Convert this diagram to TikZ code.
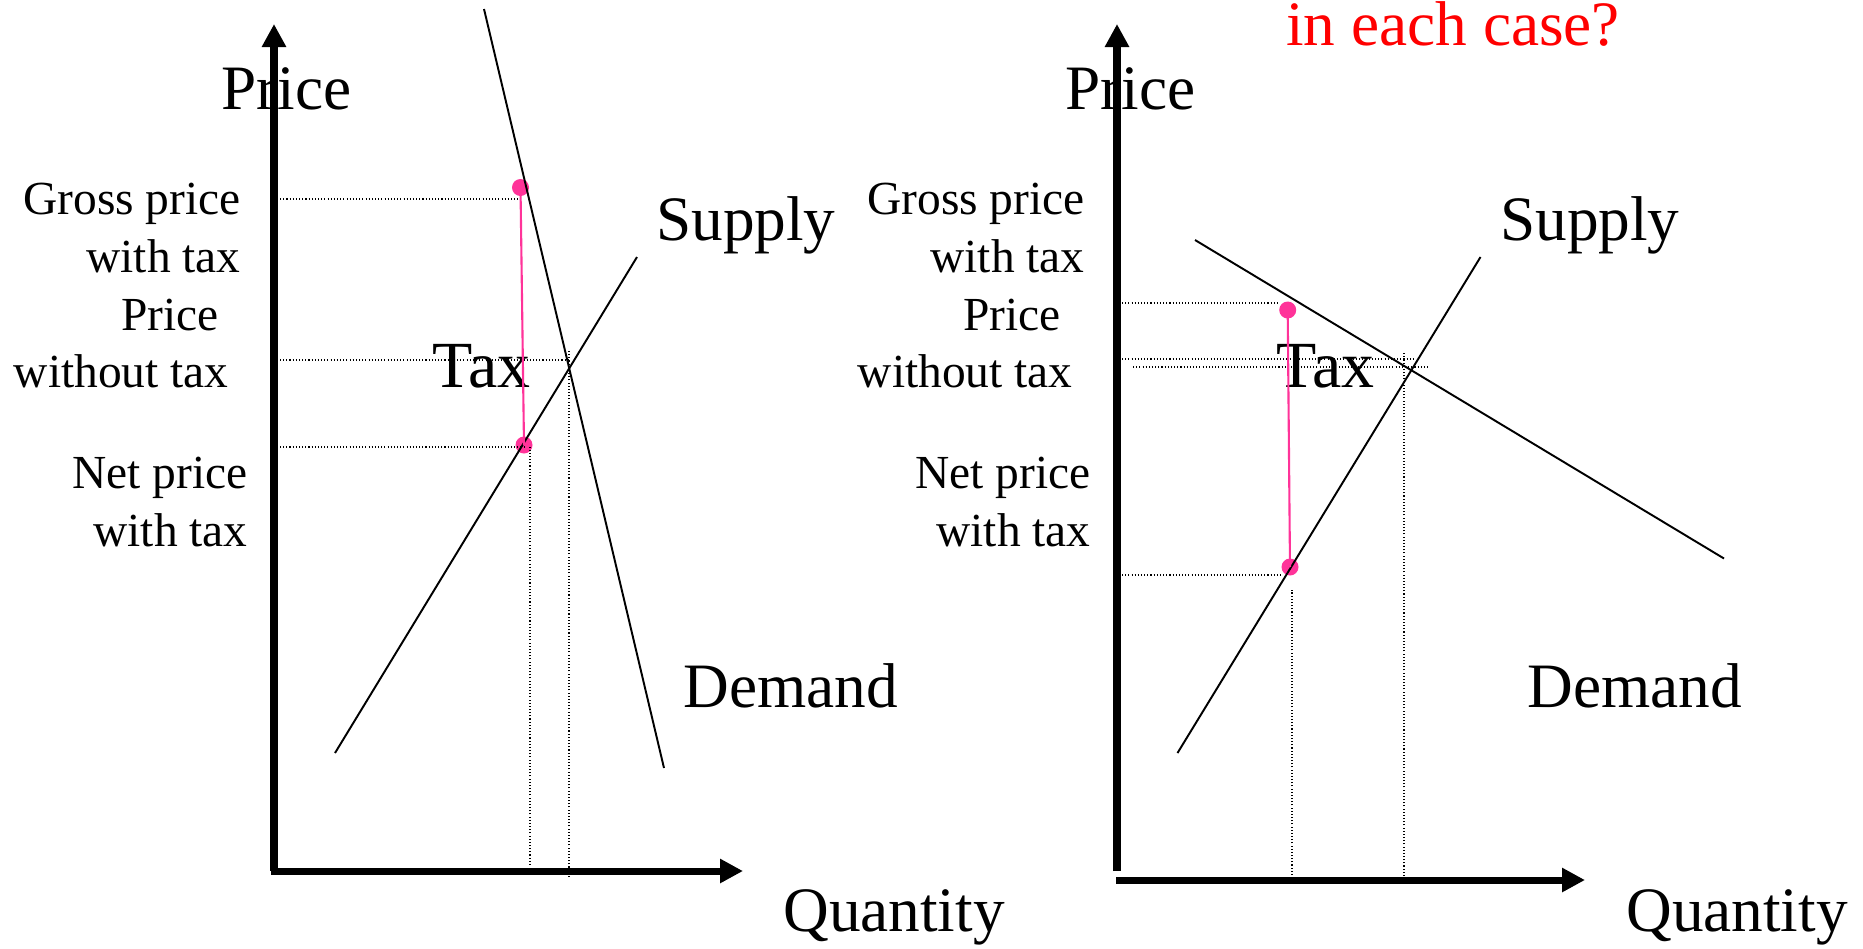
\documentclass[tikz,border=0pt]{standalone}
\usepackage{fontspec}
\setmainfont{Liberation Serif}
\usetikzlibrary{arrows.meta}
\definecolor{taxpink}{RGB}{255,51,153}

\begin{document}
\begin{tikzpicture}[x=0.02cm, y=-0.02cm,
  >={Triangle[length=0.46cm, width=0.46cm]},
  axis/.style={line width=4pt, ->},
  curve/.style={line width=1.1pt},
  guide/.style={line width=0.6pt, dash pattern=on 0.6pt off 1.2pt},
  taxline/.style={draw=taxpink, line width=1.2pt},
  dot/.style={circle, fill=taxpink, inner sep=0pt, minimum size=0.34cm},
  big/.style={font=\fontsize{36}{43}\selectfont, inner sep=0pt, anchor=base west},
  lab/.style={font=\fontsize{27}{32}\selectfont, inner sep=0pt, anchor=base east}]
  \useasboundingbox (0,0) rectangle (1863,948);

  % left market: steep demand
  \node[big] (p1) at (221,109) {Price};
  \node[lab] (g1a) at (241,214) {Gross price};
  \node[lab] (g1b) at (241,272) {with tax};
  \node[lab] (w1a) at (219,330) {Price};
  \node[lab] (w1b) at (229,387) {without tax};
  \node[lab] (n1a) at (248,488) {Net price};
  \node[lab] (n1b) at (248,546) {with tax};
  \node[big, font=\fontsize{37.5}{45}\selectfont] (t1) at (432,387) {Tax};
  \node[big] (s1) at (656,240) {Supply};
  \node[big] (d1) at (683,707) {Demand};
  \node[big] (q1) at (783,931) {Quantity};

  \coordinate (o1) at (274,871);
  \coordinate (ox1) at (270.5,871);
  \coordinate (y1) at (274,24);
  \coordinate (x1) at (743,871);
  \coordinate (da1) at (484,9);
  \coordinate (db1) at (664,768);
  \coordinate (sa1) at (335,753);
  \coordinate (sb1) at (637,257);
  \coordinate (e1) at (intersection of da1--db1 and sa1--sb1);
  \coordinate (hg1) at (277,199);
  \coordinate (he1) at (280,360);
  \coordinate (hn1) at (280,447);
  \coordinate (vn1) at (530,865);
  \coordinate (ve1) at (569,877);
  \coordinate (ve1t) at (569,351);

  \node[dot] (gd1) at (520.5,187.5) {};
  \node[dot] (nd1) at (524,445) {};

  \draw[guide] (hg1) -- (hg1 -| gd1);
  \draw[guide] (he1) -- (he1 -| e1);
  \draw[guide] (hn1) -- (hn1 -| nd1);
  \draw[guide] (vn1) -- (vn1 |- hn1);
  \draw[guide] (ve1) -- (ve1t);
  \draw[curve] (da1) -- (db1);
  \draw[curve] (sa1) -- (sb1);
  \draw[taxline] (gd1.center) -- (nd1.center);
  \draw[axis] (o1) -- (y1);
  \draw[axis] (ox1) -- (x1);

  % right market: flat demand
  \node[big, text=red] (c) at (1286,45) {in each case?};
  \node[big] (p2) at (1065,109) {Price};
  \node[lab] (g2a) at (1085,214) {Gross price};
  \node[lab] (g2b) at (1085,272) {with tax};
  \node[lab] (w2a) at (1061,330) {Price};
  \node[lab] (w2b) at (1073,387) {without tax};
  \node[lab] (n2a) at (1091,488) {Net price};
  \node[lab] (n2b) at (1091,546) {with tax};
  \node[big, font=\fontsize{37.5}{45}\selectfont] (t2) at (1276,387) {Tax};
  \node[big] (s2) at (1500,240) {Supply};
  \node[big] (d2) at (1527,707) {Demand};
  \node[big] (q2) at (1626,931) {Quantity};

  \coordinate (o2) at (1117,871);
  \coordinate (ox2) at (1116,880);
  \coordinate (y2) at (1117,24);
  \coordinate (x2) at (1585,880);
  \coordinate (da2) at (1195,240);
  \coordinate (db2) at (1724,558.5);
  \coordinate (sa2) at (1177.5,753);
  \coordinate (sb2) at (1480.5,257);
  \coordinate (hg2) at (1122,303);
  \coordinate (he2) at (1122,359);
  \coordinate (he2e) at (1415,359);
  \coordinate (hf2) at (1133,367);
  \coordinate (hf2e) at (1428,367);
  \coordinate (hn2) at (1122,575);
  \coordinate (vn2) at (1292,875);
  \coordinate (vn2t) at (1292,590);
  \coordinate (ve2) at (1404,876);
  \coordinate (ve2t) at (1404,353);

  \node[dot] (gd2) at (1287.7,310) {};
  \node[dot] (nd2) at (1290,567) {};

  \draw[guide] (hg2) -- (hg2 -| gd2.west);
  \draw[guide] (he2) -- (he2e);
  \draw[guide] (hf2) -- (hf2e);
  \draw[guide] (hn2) -- (hn2 -| nd2.west);
  \draw[guide] (vn2) -- (vn2t);
  \draw[guide] (ve2) -- (ve2t);
  \draw[curve] (da2) -- (db2);
  \draw[curve] (sa2) -- (sb2);
  \draw[taxline] (gd2.center) -- (nd2.center);
  \draw[axis] (o2) -- (y2);
  \draw[axis] (ox2) -- (x2);
\end{tikzpicture}
\end{document}
